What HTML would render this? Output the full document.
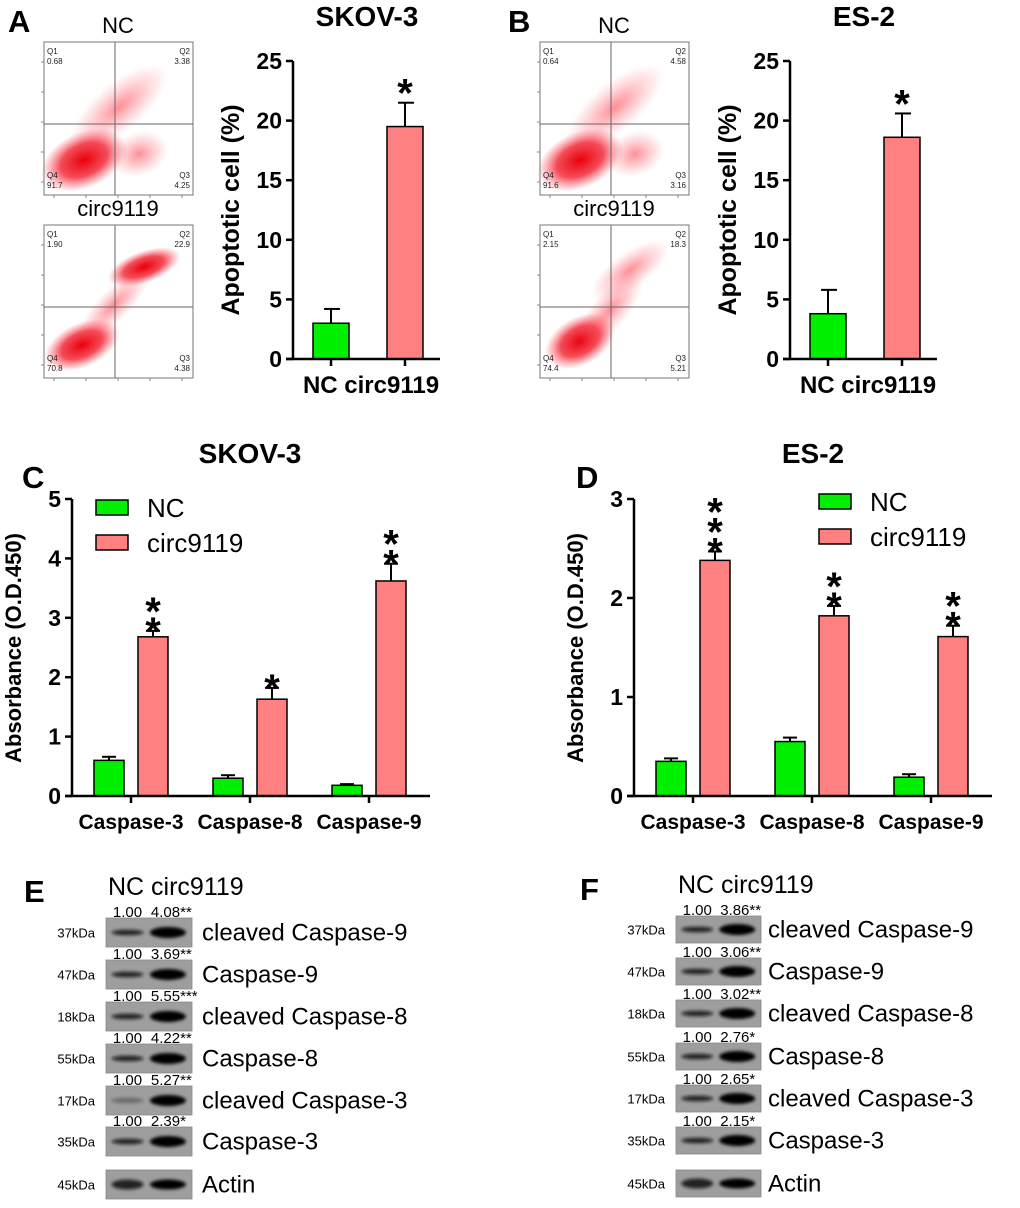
<!DOCTYPE html>
<html><head><meta charset="utf-8"><style>
html,body{margin:0;padding:0;background:#fff}
svg text{font-family:"Liberation Sans",Arial,sans-serif}
</style></head><body>
<svg id="fig" xmlns="http://www.w3.org/2000/svg" width="1020" height="1203" viewBox="0 0 1020 1203">
<defs>
<radialGradient id="cloud"><stop offset="0" stop-color="#e8000a" stop-opacity="1"/><stop offset="0.55" stop-color="#f01020" stop-opacity="0.75"/><stop offset="1" stop-color="#ff4050" stop-opacity="0"/></radialGradient>
<radialGradient id="sparse"><stop offset="0" stop-color="#ff3040" stop-opacity="0.55"/><stop offset="1" stop-color="#ff6070" stop-opacity="0"/></radialGradient>
<filter id="blur" x="-30%" y="-60%" width="160%" height="220%"><feGaussianBlur stdDeviation="1.6"/></filter>
</defs>
<g id="root"></g>
</svg>
<script>
// ---- data ----
const apoCats = ['NC', 'circ9119'];
const skovApo = [3.0, 19.5];
const skovApoErr = [1.2, 2.0];
const es2Apo = [3.8, 18.6];
const es2ApoErr = [2.0, 2.0];
const apoTicks = [0, 5, 10, 15, 20, 25];

const caspCats = ['Caspase-3', 'Caspase-8', 'Caspase-9'];
const skovNC = [0.6, 0.3, 0.18];
const skovNCErr = [0.06, 0.05, 0.02];
const skovCirc = [2.68, 1.63, 3.62];
const skovCircErr = [0.1, 0.19, 0.29];
const skovStars = ['**', '*', '**'];
const skovTicks = [0, 1, 2, 3, 4, 5];
const es2NC = [0.35, 0.55, 0.19];
const es2NCErr = [0.03, 0.04, 0.03];
const es2Circ = [2.38, 1.82, 1.61];
const es2CircErr = [0.09, 0.1, 0.11];
const es2Stars = ['***', '**', '**'];
const es2Ticks = [0, 1, 2, 3];

const blotNames = ['cleaved Caspase-9','Caspase-9','cleaved Caspase-8','Caspase-8','cleaved Caspase-3','Caspase-3','Actin'];
const blotKDa = ['37kDa','47kDa','18kDa','55kDa','17kDa','35kDa','45kDa'];
const blotE = ['4.08**','3.69**','5.55***','4.22**','5.27**','2.39*',''];
const blotF = ['3.86**','3.06**','3.02**','2.76*','2.65*','2.15*',''];

const NS = 'http://www.w3.org/2000/svg';
const root = document.getElementById('root');
function el(tag, attrs, parent, text) {
  const e = document.createElementNS(NS, tag);
  for (const k in attrs) e.setAttribute(k, attrs[k]);
  if (text !== undefined) e.textContent = text;
  (parent || root).appendChild(e);
  return e;
}

// panel letters
[['A',8,32],['B',508,32],['C',22,488],['D',576,488],['E',24,902],['F',580,900]].forEach(p => {
  const t = el('text', {x:p[1], y:p[2], 'font-size':31, 'font-weight':'bold'}, root, p[0]);
  
  
});

// ---- flow plots ----
function flow(x0, y0, label, q, clouds, name) {
  const g = el('g', {});
  
  
  const w = 149, h = 153;
  el('text', {x:x0+74, y:y0-9, 'font-size':22, 'text-anchor':'middle'}, g, label);
  clouds.forEach(c => el('ellipse', {cx:x0+c[0], cy:y0+c[1], rx:c[2], ry:c[3], fill:'url(#' + c[4] + ')', transform:'rotate(' + c[5] + ' ' + (x0+c[0]) + ' ' + (y0+c[1]) + ')'}, g));
  el('rect', {x:x0, y:y0, width:w, height:h, fill:'none', stroke:'#777', 'stroke-width':1}, g);
  el('line', {x1:x0+71, y1:y0, x2:x0+71, y2:y0+h, stroke:'#666', 'stroke-width':1}, g);
  el('line', {x1:x0, y1:y0+82, x2:x0+w, y2:y0+82, stroke:'#666', 'stroke-width':1}, g);
  const fs = 8;
  el('text', {x:x0+3, y:y0+12, 'font-size':fs, fill:'#222'}, g, 'Q1');
  el('text', {x:x0+3, y:y0+22, 'font-size':fs, fill:'#222'}, g, q[0]);
  el('text', {x:x0+w-3, y:y0+12, 'font-size':fs, fill:'#222', 'text-anchor':'end'}, g, 'Q2');
  el('text', {x:x0+w-3, y:y0+22, 'font-size':fs, fill:'#222', 'text-anchor':'end'}, g, q[1]);
  el('text', {x:x0+3, y:y0+136, 'font-size':fs, fill:'#222'}, g, 'Q4');
  el('text', {x:x0+3, y:y0+146, 'font-size':fs, fill:'#222'}, g, q[3]);
  el('text', {x:x0+w-3, y:y0+136, 'font-size':fs, fill:'#222', 'text-anchor':'end'}, g, 'Q3');
  el('text', {x:x0+w-3, y:y0+146, 'font-size':fs, fill:'#222', 'text-anchor':'end'}, g, q[2]);
  for (let i = 0; i < 5; i++) {
    el('line', {x1:x0-3, y1:y0+20+i*30, x2:x0, y2:y0+20+i*30, stroke:'#888'}, g);
    el('line', {x1:x0+10+i*32, y1:y0+h, x2:x0+10+i*32, y2:y0+h+3, stroke:'#888'}, g);
  }
}
const ncClouds = [[75,65,60,24,'sparse',-40],[40,118,45,28,'cloud',-25],[95,112,30,22,'sparse',-20]];
flow(44, 42, 'NC', ['0.68','3.38','4.25','91.7'], ncClouds, 'flow-plot-skov3-nc');
flow(44, 225, 'circ9119', ['1.90','22.9','4.38','70.8'], [[38,120,40,22,'cloud',-25],[100,42,38,16,'cloud',-20],[70,80,48,16,'sparse',-45]], 'flow-plot-skov3-circ9119');
flow(540, 42, 'NC', ['0.64','4.58','3.16','91.6'], ncClouds, 'flow-plot-es2-nc');
flow(540, 225, 'circ9119', ['2.15','18.3','5.21','74.4'], [[40,116,38,24,'cloud',-30],[90,45,46,18,'sparse',-35],[70,85,48,18,'sparse',-50]], 'flow-plot-es2-circ9119');

// ---- apoptosis bar charts ----
function apoChart(ax, vals, errs, title, name) {
  const g = el('g', {});
  
  
  const y0 = 359, ppu = 298 / 25;
  const y = v => y0 - v * ppu;
  const xc = i => ax + 38 + i * 74;
  el('text', {x:ax+74, y:26, 'font-size':28, 'font-weight':'bold', 'text-anchor':'middle'}, g, title);
  const yt = el('text', {x:0, y:0, 'font-size':25, 'font-weight':'bold', 'text-anchor':'middle', transform:'translate(' + (ax-54) + ',210) rotate(-90)'}, g, 'Apoptotic cell (%)');
  
  
  vals.forEach((v, i) => {
    const c = xc(i), top = y(v), et = y(v + errs[i]);
    el('line', {x1:c, y1:top, x2:c, y2:et, stroke:'#000', 'stroke-width':2}, g);
    el('line', {x1:c-7, y1:et, x2:c+9, y2:et, stroke:'#000', 'stroke-width':2}, g);
    const b = el('rect', {x:c-18, y:top, width:36, height:y0-top, fill: i===0 ? '#00f000' : '#ff8080', stroke:'#000', 'stroke-width':1.5}, g);
    
    
    el('line', {x1:c, y1:y0, x2:c, y2:y0+7, stroke:'#000', 'stroke-width':2.5}, g);
    if (i === 1) el('text', {x:c, y:et+4, 'font-size':40, 'font-weight':'bold', 'text-anchor':'middle'}, g, '*');
  });
  el('line', {x1:ax, y1:y(25), x2:ax, y2:y0, stroke:'#000', 'stroke-width':2.5}, g);
  el('line', {x1:ax-7, y1:y0, x2:ax+147, y2:y0, stroke:'#000', 'stroke-width':2.5}, g);
  apoTicks.forEach(t => {
    el('line', {x1:ax-7, y1:y(t), x2:ax, y2:y(t), stroke:'#000', 'stroke-width':2.5}, g);
    el('text', {x:ax-11, y:y(t)+8, 'font-size':23, 'font-weight':'bold', 'text-anchor':'end'}, g, String(t));
  });
  el('text', {x:ax+78, y:393, 'font-size':24, 'font-weight':'bold', 'text-anchor':'middle'}, g, apoCats.join(' '));
}
apoChart(293, skovApo, skovApoErr, 'SKOV-3', 'chart-apoptosis-skov3');
apoChart(790, es2Apo, es2ApoErr, 'ES-2', 'chart-apoptosis-es2');

// ---- caspase activity charts ----
function caspChart(ax, maxV, ticks, nc, ncE, ci, ciE, stars, title, titleX, legX, legY, name) {
  const g = el('g', {});
  
  
  const y0 = 796, ppu = 297 / maxV;
  const y = v => y0 - v * ppu;
  const gc = i => ax + 59 + i * 119;
  el('text', {x:titleX, y:463, 'font-size':28, 'font-weight':'bold', 'text-anchor':'middle'}, g, title);
  const yt = el('text', {x:0, y:0, 'font-size':22, 'font-weight':'bold', 'text-anchor':'middle', transform:'translate(' + (ax-51) + ',648) rotate(-90)'}, g, 'Absorbance (O.D.450)');
  
  
  caspCats.forEach((cat, i) => {
    [[nc, ncE, -22, '#00f000', 'nc'], [ci, ciE, 22, '#ff8080', 'circ9119']].forEach(s => {
      const v = s[0][i], e = s[1][i], c = gc(i) + s[2];
      const top = y(v), et = y(v + e);
      el('line', {x1:c, y1:top, x2:c, y2:et, stroke:'#000', 'stroke-width':2}, g);
      el('line', {x1:c-7, y1:et, x2:c+7, y2:et, stroke:'#000', 'stroke-width':2}, g);
      const b = el('rect', {x:c-15, y:top, width:30, height:y0-top, fill:s[3], stroke:'#000', 'stroke-width':1.5}, g);
      
      
      if (s[4] === 'circ9119') {
        const n = stars[i].length;
        for (let k = 0; k < n; k++) {
          el('text', {x:c, y:et + 18 - (n-1-k)*20 - 4, 'font-size':40, 'font-weight':'bold', 'text-anchor':'middle'}, g, '*');
        }
      }
    });
    el('line', {x1:gc(i), y1:y0, x2:gc(i), y2:y0+7, stroke:'#000', 'stroke-width':2.5}, g);
    el('text', {x:gc(i), y:829, 'font-size':21, 'font-weight':'bold', 'text-anchor':'middle'}, g, cat);
  });
  el('line', {x1:ax, y1:y(maxV), x2:ax, y2:y0, stroke:'#000', 'stroke-width':2.5}, g);
  el('line', {x1:ax-7, y1:y0, x2:ax+358, y2:y0, stroke:'#000', 'stroke-width':2.5}, g);
  ticks.forEach(t => {
    el('line', {x1:ax-7, y1:y(t), x2:ax, y2:y(t), stroke:'#000', 'stroke-width':2.5}, g);
    el('text', {x:ax-11, y:y(t)+8, 'font-size':23, 'font-weight':'bold', 'text-anchor':'end'}, g, String(t));
  });
  const lg = el('g', {}, g);
  
  
  [['NC','#00f000',0],['circ9119','#ff8080',35]].forEach(l => {
    el('rect', {x:legX, y:legY+l[2], width:32, height:15, fill:l[1], stroke:'#000', 'stroke-width':1.5}, lg);
    el('text', {x:legX+51, y:legY+l[2]+17, 'font-size':26}, lg, l[0]);
  });
}
caspChart(72, 5, skovTicks, skovNC, skovNCErr, skovCirc, skovCircErr, skovStars, 'SKOV-3', 250, 96, 500, 'chart-caspase-skov3');
caspChart(634, 3, es2Ticks, es2NC, es2NCErr, es2Circ, es2CircErr, es2Stars, 'ES-2', 813, 819, 494, 'chart-caspase-es2');

// ---- western blots ----
function blot(x0, w, tops, h, vals, nx, hdrY, name) {
  const g = el('g', {});
  
  
  const l1 = x0 + w*0.25, l2 = x0 + w*0.72;
  el('text', {x:x0+2, y:hdrY, 'font-size':25}, g, 'NC circ9119');
  tops.forEach((t, i) => {
    el('rect', {x:x0, y:t, width:w, height:h, fill:'#9e9e9e', stroke:'#888', 'stroke-width':0.8}, g);
    const cy = t + h/2;
    el('ellipse', {cx:l1, cy:cy, rx:16, ry:i===6?5:2.8, fill:'#111', opacity:i===4&&x0<300?0.35:0.85, filter:'url(#blur)'}, g);
    el('ellipse', {cx:l2, cy:cy, rx:18, ry:i===6?5:5.5, fill:'#050505', filter:'url(#blur)'}, g);
    el('text', {x:x0-11, y:cy+5, 'font-size':13, 'text-anchor':'end'}, g, blotKDa[i]);
    const nt = el('text', {x:nx, y:cy+8, 'font-size':24}, g, blotNames[i]);
    
    
    if (vals[i]) {
      el('text', {x:l1, y:t-1, 'font-size':15, 'text-anchor':'middle'}, g, '1.00');
      el('text', {x:l2-17, y:t-1, 'font-size':15}, g, vals[i]);
    }
  });
}
blot(106, 86, [918,960,1002,1044,1086,1127,1170], 29, blotE, 202, 895, 'western-blot-skov3');
blot(676, 85, [916,958,1000,1043,1085,1127,1170], 27, blotF, 768, 893, 'western-blot-es2');
</script>
</body></html>
